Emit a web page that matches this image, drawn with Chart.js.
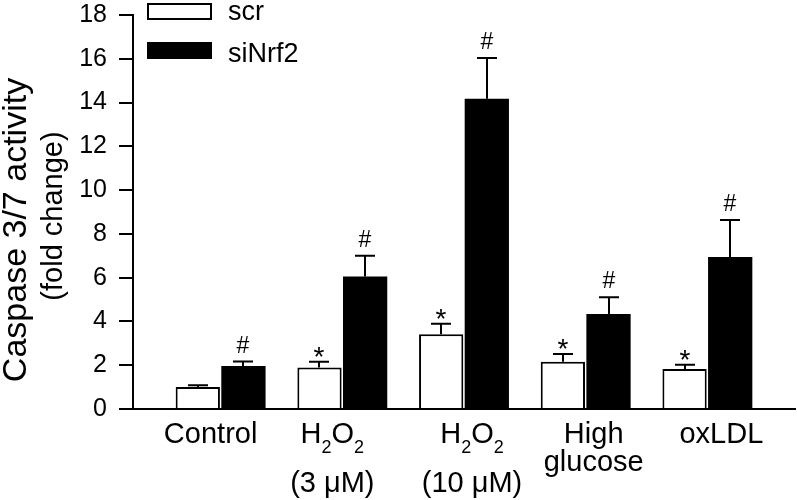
<!DOCTYPE html>
<html>
<head>
<meta charset="utf-8">
<script src="https://cdn.jsdelivr.net/npm/chart.js@4/dist/chart.umd.min.js"></script>
<style>
html,body{margin:0;padding:0;background:#fff}
#wrap{width:797px;height:500px;position:relative}
</style>
</head>
<body>
<div id="wrap"><canvas id="c"></canvas></div>
<script>
// ---- data ----
const categories = ['Control', 'H2O2 (3 μM)', 'H2O2 (10 μM)', 'High glucose', 'oxLDL'];
const labelLine1 = ['Control', 'H_2O_2', 'H_2O_2', 'High', 'oxLDL'];
const labelLine2 = ['', '(3 μM)', '(10 μM)', 'glucose', ''];
const seriesNames = ['scr', 'siNrf2'];
const scrMean = [1.0, 1.9, 3.42, 2.16, 1.83];
const scrErr  = [0.08, 0.26, 0.48, 0.35, 0.19];
const siMean  = [1.97, 6.05, 14.17, 4.34, 6.94];
const siErr   = [0.20, 0.95, 1.87, 0.76, 1.70];
const scrMarks = ['', '*', '*', '*', '*'];
const siMarks  = ['#', '#', '#', '#', '#'];
const yTicks = [0, 2, 4, 6, 8, 10, 12, 14, 16, 18];
const yTitle = ['Caspase 3/7 activity', '(fold change)'];

// ---- styling / layout constants ----
const FONT = '"Liberation Sans", Arial, Helvetica, sans-serif';
const labelShift = [-10, -10, 8, 8, 14];

const means = [scrMean, siMean];
const errs = [scrErr, siErr];
const marks = [scrMarks, siMarks];

function richSegments(str) {
  const segs = [];
  for (let i = 0; i < str.length; i++) {
    if (str[i] === '_') { segs.push({t: str[i + 1], sub: true}); i++; }
    else if (segs.length && !segs[segs.length - 1].sub) segs[segs.length - 1].t += str[i];
    else segs.push({t: str[i], sub: false});
  }
  return segs;
}

function drawRich(ctx, str, cx, baseline, size, subSize, subDrop) {
  const segs = richSegments(str);
  let total = 0;
  segs.forEach(s => {
    ctx.font = (s.sub ? subSize : size) + 'px ' + FONT;
    s.w = ctx.measureText(s.t).width;
    total += s.w;
  });
  let x = cx - total / 2;
  ctx.textAlign = 'left';
  ctx.textBaseline = 'alphabetic';
  segs.forEach(s => {
    ctx.font = (s.sub ? subSize : size) + 'px ' + FONT;
    ctx.fillText(s.t, x, baseline + (s.sub ? subDrop : 0));
    x += s.w;
  });
}

const decorPlugin = {
  id: 'decor',
  afterDatasetsDraw(chart) {
    const ctx = chart.ctx;
    const ys = chart.scales.y;
    ctx.save();
    ctx.strokeStyle = '#000';
    ctx.fillStyle = '#000';
    ctx.lineWidth = 2;
    for (let d = 0; d < 2; d++) {
      const meta = chart.getDatasetMeta(d);
      meta.data.forEach((bar, i) => {
        const top = ys.getPixelForValue(means[d][i] + errs[d][i]);
        const x = Math.round(bar.x);
        ctx.beginPath();
        ctx.moveTo(x, bar.y);
        ctx.lineTo(x, top);
        ctx.moveTo(x - 10, top);
        ctx.lineTo(x + 10, top);
        ctx.stroke();
        const m = marks[d][i];
        if (m) {
          ctx.textAlign = 'center';
          ctx.textBaseline = 'alphabetic';
          if (m === '*') {
            ctx.font = '28px ' + FONT;
            ctx.fillText(m, x, top + 4);
          } else {
            ctx.font = '23px ' + FONT;
            ctx.fillText(m, x, top - 9);
          }
        }
      });
    }
    ctx.restore();
  },
  afterDraw(chart) {
    const ctx = chart.ctx;
    const xs = chart.scales.x;
    const area = chart.chartArea;
    ctx.save();
    ctx.fillStyle = '#000';
    // category labels
    labelLine1.forEach((l1, i) => {
      const cx = xs.getPixelForValue(i) + labelShift[i];
      const b1 = area.bottom + 34;
      drawRich(ctx, l1, cx, b1, 29, 18, 10);
      const l2 = labelLine2[i];
      if (l2) {
        const hasSub = l1.indexOf('_') >= 0;
        drawRich(ctx, l2, cx, b1 + (hasSub ? 48.5 : 27.5), 29, 18, 10);
      }
    });
    // y title
    const fonts = [34, 29];
    const bx = [26, 62];
    const cy = [230, 216];
    yTitle.forEach((t, k) => {
      ctx.save();
      ctx.translate(bx[k], cy[k]);
      ctx.rotate(-Math.PI / 2);
      ctx.font = fonts[k] + 'px ' + FONT;
      ctx.textAlign = 'center';
      ctx.textBaseline = 'alphabetic';
      ctx.fillText(t, 0, 0);
      ctx.restore();
    });
    // legend
    const ds = chart.data.datasets;
    const lx = area.left + 14;
    const rows = [{y: 3, base: 20}, {y: 42, base: 61.5}];
    ds.forEach((d, k) => {
      const r = rows[k];
      ctx.fillStyle = d.backgroundColor;
      ctx.fillRect(lx, r.y, 65, 17);
      if (d.borderWidth) {
        ctx.strokeStyle = d.borderColor;
        ctx.lineWidth = 2;
        ctx.strokeRect(lx + 1, r.y + 1, 63, 15);
      }
      ctx.fillStyle = '#000';
      ctx.font = '27px ' + FONT;
      ctx.textAlign = 'left';
      ctx.textBaseline = 'alphabetic';
      ctx.fillText(d.label, lx + 81, r.base);
    });
    ctx.restore();
  }
};

const data = {
  datasets: [
    {
      label: seriesNames[0],
      data: scrMean.map((v, i) => ({x: i, y: v})),
      backgroundColor: '#ffffff',
      borderColor: '#000000',
      borderWidth: 2,
      borderSkipped: 'start'
    },
    {
      label: seriesNames[1],
      data: siMean.map((v, i) => ({x: i, y: v})),
      backgroundColor: '#000000',
      borderColor: '#000000',
      borderWidth: 0
    }
  ]
};

new Chart(document.getElementById('c'), {
  type: 'bar',
  data: data,
  options: {
    responsive: true,
    maintainAspectRatio: false,
    animation: false,
    datasets: { bar: { categoryPercentage: 0.75, barPercentage: 0.97 } },
    layout: { padding: { top: 15, right: 2, bottom: 0, left: 0 } },
    plugins: { legend: { display: false }, tooltip: { enabled: false } },
    scales: {
      x: {
        type: 'linear',
        offset: false,
        min: -0.72,
        max: 4.72,
        grid: { display: false, drawTicks: false, offset: false },
        ticks: { display: false },
        border: { display: true, color: '#000', width: 2 },
        afterBuildTicks(s) { s.ticks = categories.map((_, i) => ({ value: i })); },
        afterFit(s) { s.height = 91; s.paddingLeft = 0; s.paddingRight = 0; }
      },
      y: {
        min: yTicks[0],
        max: yTicks[yTicks.length - 1],
        afterBuildTicks(s) { s.ticks = yTicks.map(v => ({ value: v })); },
        ticks: { color: '#000', font: { family: FONT, size: 25 }, padding: 12 },
        grid: { drawOnChartArea: false, drawTicks: true, tickLength: 14, color: '#000', lineWidth: 2 },
        border: { display: true, color: '#000', width: 2 },
        afterFit(s) { s.width = 133; s.paddingTop = 0; s.paddingBottom = 0; }
      }
    }
  },
  plugins: [decorPlugin]
});
</script>
</body>
</html>
